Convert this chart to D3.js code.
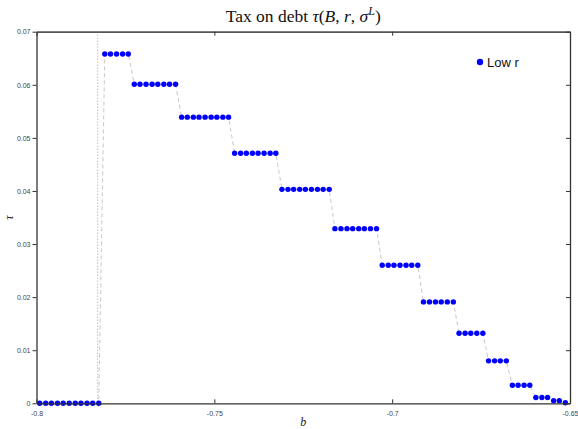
<!DOCTYPE html>
<html>
<head>
<meta charset="utf-8">
<script src="https://cdn.jsdelivr.net/npm/d3@7"></script>
<style>
  html, body { margin: 0; padding: 0; background: #fff; }
  svg { display: block; }
</style>
</head>
<body>
<svg id="chart" width="578" height="429"></svg>
<script>
// Debt grid b
const bGrid = [
  -0.7991, -0.7974, -0.7958, -0.7941, -0.7925, -0.7908, -0.7891, -0.7875, -0.7858, -0.7842,
  -0.7825, -0.7808, -0.7792, -0.7775, -0.7758, -0.7742, -0.7725, -0.7709, -0.7692, -0.7675,
  -0.7659, -0.7642, -0.7626, -0.7609, -0.7592, -0.7576, -0.7559, -0.7543, -0.7526, -0.7509,
  -0.7493, -0.7476, -0.7460, -0.7443, -0.7426, -0.7410, -0.7393, -0.7377, -0.7360, -0.7343,
  -0.7327, -0.7310, -0.7293, -0.7277, -0.7260, -0.7244, -0.7227, -0.7210, -0.7194, -0.7177,
  -0.7161, -0.7144, -0.7127, -0.7111, -0.7094, -0.7078, -0.7061, -0.7044, -0.7028, -0.7011,
  -0.6995, -0.6978, -0.6961, -0.6945, -0.6928, -0.6912, -0.6895, -0.6878, -0.6862, -0.6845,
  -0.6828, -0.6812, -0.6795, -0.6779, -0.6762, -0.6745, -0.6729, -0.6712, -0.6696, -0.6679,
  -0.6662, -0.6646, -0.6629, -0.6613, -0.6596, -0.6579, -0.6563, -0.6546, -0.6530, -0.6513
];

// Tax on debt, low-r state
const tauLow = [
  0, 0, 0, 0, 0, 0, 0, 0, 0, 0, 0,
  0.0658, 0.0658, 0.0658, 0.0658, 0.0658,
  0.0601, 0.0601, 0.0601, 0.0601, 0.0601, 0.0601, 0.0601, 0.0601,
  0.0539, 0.0539, 0.0539, 0.0539, 0.0539, 0.0539, 0.0539, 0.0539, 0.0539,
  0.0471, 0.0471, 0.0471, 0.0471, 0.0471, 0.0471, 0.0471, 0.0471,
  0.0403, 0.0403, 0.0403, 0.0403, 0.0403, 0.0403, 0.0403, 0.0403, 0.0403,
  0.0329, 0.0329, 0.0329, 0.0329, 0.0329, 0.0329, 0.0329, 0.0329,
  0.0260, 0.0260, 0.0260, 0.0260, 0.0260, 0.0260, 0.0260,
  0.0191, 0.0191, 0.0191, 0.0191, 0.0191, 0.0191,
  0.0132, 0.0132, 0.0132, 0.0132, 0.0132,
  0.0080, 0.0080, 0.0080, 0.0080,
  0.0034, 0.0034, 0.0034, 0.0034,
  0.0011, 0.0011, 0.0011,
  0.0005, 0.0005,
  0.0001
];

// Debt threshold marked by a vertical line
const bThreshold = -0.7828;

const xTicks = [-0.8, -0.75, -0.7, -0.65];
const xTickLabels = ["-0.8", "-0.75", "-0.7", "-0.65"];
const yTicks = [0, 0.01, 0.02, 0.03, 0.04, 0.05, 0.06, 0.07];
const yTickLabels = ["0", "0.01", "0.02", "0.03", "0.04", "0.05", "0.06", "0.07"];
const seriesName = "Low r";

const svg = d3.select("#chart");
const plot = { left: 36.5, right: 570, top: 31.7, bottom: 403.3 };

const x = d3.scaleLinear().domain([-0.8, -0.65]).range([plot.left, plot.right]);
const y = d3.scaleLinear().domain([0, 0.07]).range([plot.bottom, plot.top]);

const pts = bGrid.map((b, i) => [b, tauLow[i]]);

// Threshold line
svg.append("line")
  .attr("x1", x(bThreshold)).attr("x2", x(bThreshold))
  .attr("y1", plot.top).attr("y2", plot.bottom)
  .attr("stroke", "#d86a6a").attr("stroke-width", 0.8)
  .attr("stroke-dasharray", "1,2");

// Dashed connector
svg.append("path")
  .datum(pts)
  .attr("fill", "none")
  .attr("stroke", "#c8c8c8")
  .attr("stroke-width", 1)
  .attr("stroke-dasharray", "4,3")
  .attr("d", d3.line().x(d => x(d[0])).y(d => y(d[1])));

// Markers
svg.append("g").selectAll("circle")
  .data(pts).enter().append("circle")
  .attr("cx", d => x(d[0])).attr("cy", d => y(d[1]))
  .attr("r", 2.7).attr("fill", "#0000ff");

// Axes
const axisColor = "#333";
const fmtX = d => xTickLabels[xTicks.indexOf(d)];
const fmtY = d => yTickLabels[yTicks.indexOf(d)];

const gx = svg.append("g").attr("transform", `translate(0,${plot.bottom})`)
  .call(d3.axisBottom(x).tickValues(xTicks).tickFormat(fmtX).tickSizeInner(-4).tickSizeOuter(0).tickPadding(8));
const gxTop = svg.append("g").attr("transform", `translate(0,${plot.top})`)
  .call(d3.axisTop(x).tickValues(xTicks).tickFormat("").tickSizeInner(-4).tickSizeOuter(0));
const gy = svg.append("g").attr("transform", `translate(${plot.left},0)`)
  .call(d3.axisLeft(y).tickValues(yTicks).tickFormat(fmtY).tickSizeInner(4).tickSizeOuter(0).tickPadding(2));
const gyR = svg.append("g").attr("transform", `translate(${plot.right},0)`)
  .call(d3.axisRight(y).tickValues(yTicks).tickFormat("").tickSizeInner(-4).tickSizeOuter(0));

[gx, gxTop, gy, gyR].forEach(g => {
  g.select(".domain").attr("stroke", axisColor).attr("stroke-width", 1.3);
  g.selectAll(".tick line").attr("stroke", axisColor).attr("stroke-width", 1);
  g.selectAll(".tick text")
    .attr("fill", "#444")
    .style("font-family", "'Liberation Sans', Arial, sans-serif")
    .style("font-size", "7px");
});
gxTop.select(".domain").attr("stroke", "#555").attr("stroke-width", 1.8);

// Title
const title = svg.append("text")
  .attr("x", (plot.left + plot.right) / 2).attr("y", 22)
  .attr("text-anchor", "middle")
  .style("font-family", "'Liberation Serif', 'DejaVu Serif', serif")
  .style("font-size", "17.5px")
  .attr("fill", "#111");
title.append("tspan").text("Tax on debt ");
title.append("tspan").style("font-style", "italic").text("τ");
title.append("tspan").text("(");
title.append("tspan").style("font-style", "italic").text("B");
title.append("tspan").text(", ");
title.append("tspan").style("font-style", "italic").text("r");
title.append("tspan").text(", ");
title.append("tspan").style("font-style", "italic").text("σ");
title.append("tspan").attr("dy", -7).style("font-size", "12px").style("font-style", "italic").text("L");
title.append("tspan").attr("dy", 7).text(")");

// Axis labels
svg.append("text")
  .attr("x", (plot.left + plot.right) / 2).attr("y", 426)
  .attr("text-anchor", "middle")
  .style("font-family", "'Liberation Serif', serif")
  .style("font-style", "italic")
  .style("font-size", "12px")
  .attr("fill", "#222")
  .text("b");

svg.append("text")
  .attr("transform", `translate(13,${(plot.top + plot.bottom) / 2}) rotate(-90)`)
  .attr("text-anchor", "middle")
  .style("font-family", "'Liberation Serif', serif")
  .style("font-style", "italic")
  .style("font-size", "12px")
  .attr("fill", "#222")
  .text("τ");

// Legend
const lg = svg.append("g").attr("transform", "translate(480,62)");
lg.append("circle").attr("r", 3.2).attr("fill", "#0000ff");
lg.append("text").attr("x", 7).attr("y", 4.5)
  .style("font-family", "'Liberation Sans', Arial, sans-serif")
  .style("font-size", "13px")
  .attr("fill", "#111")
  .text(seriesName);
</script>
</body>
</html>
